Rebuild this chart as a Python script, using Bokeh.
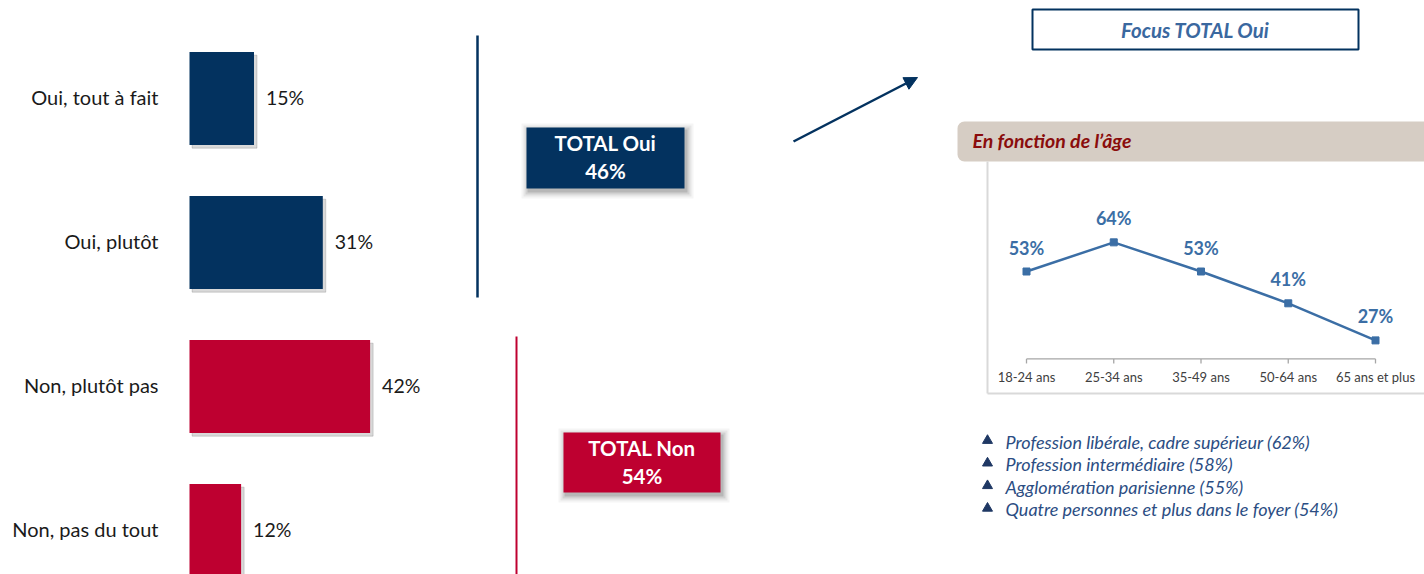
from bokeh.plotting import figure
from bokeh.models import Range1d, Arrow, NormalHead, ColumnDataSource
from bokeh.core.properties import value
from bokeh.embed import file_html
from bokeh.resources import INLINE

# ---------------- data ----------------
categories = ["Oui, tout à fait", "Oui, plutôt", "Non, plutôt pas", "Non, pas du tout"]
answer_values = [15, 31, 42, 12]
answer_groups = ["Oui", "Oui", "Non", "Non"]

age_groups = ["18-24 ans", "25-34 ans", "35-49 ans", "50-64 ans", "65 ans et plus"]
age_values = [53, 64, 53, 41, 27]

highlights = [
    "Profession libérale, cadre supérieur (62%)",
    "Profession intermédiaire (58%)",
    "Agglomération parisienne (55%)",
    "Quatre personnes et plus dans le foyer (54%)",
]

# ---------------- styles ----------------
NAVY = "#03325f"
RED = "#be0030"
LINE_BLUE = "#3b6ea5"
FONT = value("Lato")

W, H = 1424, 574
X0, Y0 = 0, 0
p = figure(width=W, height=H, x_range=Range1d(X0, X0 + W), y_range=Range1d(Y0 + H, Y0),
           output_backend="svg", toolbar_location=None, min_border=0,
           x_axis_location=None, y_axis_location=None)
p.grid.visible = False
p.outline_line_color = None
p.background_fill_color = "white"
p.border_fill_color = "white"

# ---------------- bar chart (own scales) ----------------
PX_PCT, BAR_X0 = 4.3, 189
ROW_PX, ROW_Y0 = 144, 98
p.extra_x_ranges = {
    "pct": Range1d((X0 - BAR_X0) / PX_PCT, (X0 + W - BAR_X0) / PX_PCT),
    "age": Range1d((X0 - 1026) / 87.25, (X0 + W - 1026) / 87.25),
}
p.extra_y_ranges = {
    "row": Range1d((Y0 + H - ROW_Y0) / ROW_PX, (Y0 - ROW_Y0) / ROW_PX),
    "lv": Range1d((411.45 - (Y0 + H)) / 2.65, (411.45 - Y0) / 2.65),
}

idx = list(range(len(categories)))
bar_colors = [NAVY if g == "Oui" else RED for g in answer_groups]
src = ColumnDataSource(dict(
    y=idx, v=answer_values, c=bar_colors, cat=categories,
    lab=[f"{v}%" for v in answer_values],
    ys=[i + 0.022 for i in idx], vs=[v + 0.7 for v in answer_values],
))
p.hbar(y="ys", left=0.6, right="vs", height=0.646, source=src, color="#000000", alpha=0.15,
       x_range_name="pct", y_range_name="row")
p.hbar(y="y", left=0, right="v", height=0.646, source=src, fill_color="c", line_color=None,
       x_range_name="pct", y_range_name="row")
p.text(x="v", y="y", text="lab", source=src, x_offset=12, y_offset=-1, text_baseline="middle",
       text_font=FONT, text_font_size="19.5px", text_color="#1a1a1a",
       x_range_name="pct", y_range_name="row")
p.text(x=0, y="y", text="cat", source=src, x_offset=-31, y_offset=-2, text_align="right",
       text_baseline="middle", text_font=FONT, text_font_size="20px", text_color="#1a1a1a",
       x_range_name="pct", y_range_name="row")

total_oui = sum(v for v, g in zip(answer_values, answer_groups) if g == "Oui")
total_non = sum(v for v, g in zip(answer_values, answer_groups) if g == "Non")

# separators
p.segment(x0=477, y0=35, x1=477, y1=297, line_color=NAVY, line_width=2.5)
p.segment(x0=516, y0=336, x1=516, y1=580, line_color=RED, line_width=2)


def total_box(l, r, t, b, color, label, total):
    for k, a in [(7, 0.04), (5, 0.06), (3, 0.09), (1, 0.12)]:
        p.quad(left=l - k + 2, right=r + k + 2, top=t - k + 3, bottom=b + k + 3,
               fill_color="#000000", fill_alpha=a, line_color=None)
    p.quad(left=l, right=r, top=t, bottom=b, fill_color=color, line_color=None)
    cx, cy = (l + r) / 2, (t + b) / 2
    p.text(x=[cx, cx], y=[cy - 15, cy + 13], text=[label, f"{total}%"], text_align="center",
           text_baseline="middle", text_font=FONT, text_font_style="bold",
           text_font_size="20.5px", text_color="white")


total_box(526, 684, 127, 188, NAVY, "TOTAL Oui", total_oui)
total_box(563, 720, 432, 492, RED, "TOTAL Non", total_non)

# arrow
p.add_layout(Arrow(x_start=793, y_start=141, x_end=917, y_end=77, line_color=NAVY,
                   line_width=2.5,
                   end=NormalHead(size=13, fill_color=NAVY, line_color=NAVY)))

# Focus box
p.quad(left=1032, right=1358, top=9, bottom=49, fill_color="white", line_color=NAVY,
       line_width=2)
p.text(x=[1195], y=[29], text=["Focus TOTAL Oui"], text_align="center", text_baseline="middle",
       text_font=FONT, text_font_style="bold italic", text_font_size="20.5px",
       text_color="#3a689f")

# header of line chart
p.quad(left=957, right=1440, top=121, bottom=161, fill_color="#d6cdc4", line_color=None,
       border_radius=7)
p.text(x=[972], y=[140], text=["En fonction de l’âge"], text_baseline="middle",
       text_font=FONT, text_font_style="bold italic", text_font_size="19.5px",
       text_color="#8a0c0c")

# chart frame
p.segment(x0=[987, 987], y0=[161, 393], x1=[987, 1430], y1=[393, 393],
          line_color="#d9d9d9", line_width=2)

# ---------------- line chart (own scales) ----------------
aidx = list(range(len(age_groups)))
AXIS_MIN = 20
lsrc = ColumnDataSource(dict(x=aidx, v=age_values, lab=[f"{v}%" for v in age_values],
                             cat=age_groups, base=[AXIS_MIN] * len(aidx),
                             tick=[AXIS_MIN - 1.7] * len(aidx)))
p.segment(x0=0, y0=AXIS_MIN, x1=len(aidx) - 1, y1=AXIS_MIN, line_color="#a6a6a6",
          line_width=1.3, x_range_name="age", y_range_name="lv")
p.segment(x0="x", y0="base", x1="x", y1="tick", source=lsrc, line_color="#a6a6a6",
          line_width=1.3, x_range_name="age", y_range_name="lv")
p.text(x="x", y="base", text="cat", source=lsrc, y_offset=18, text_align="center",
       text_baseline="middle", text_font=FONT, text_font_size="13px", text_color="#404040",
       x_range_name="age", y_range_name="lv")
p.line(x="x", y="v", source=lsrc, line_color=LINE_BLUE, line_width=2.5,
       x_range_name="age", y_range_name="lv")
p.scatter(x="x", y="v", source=lsrc, marker="square", size=7, fill_color=LINE_BLUE,
          line_color=LINE_BLUE, x_range_name="age", y_range_name="lv")
p.text(x="x", y="v", text="lab", source=lsrc, y_offset=-24, text_align="center",
       text_baseline="middle", text_font=FONT, text_font_style="bold", text_font_size="18px",
       text_color=LINE_BLUE, x_range_name="age", y_range_name="lv")

# ---------------- highlights ----------------
hy = [442 + 22.6 * i for i in range(len(highlights))]
p.scatter(x=[987] * len(hy), y=[y - 2 for y in hy], marker="triangle", size=10,
          fill_color="#1f3864", line_color="#1f3864")
p.text(x=[1005] * len(hy), y=[y - 1 for y in hy], text=highlights, text_baseline="middle",
       text_font=FONT, text_font_style="italic", text_font_size="18px", text_color="#2b4d83")

open("out.html", "w").write(file_html(p, INLINE))
